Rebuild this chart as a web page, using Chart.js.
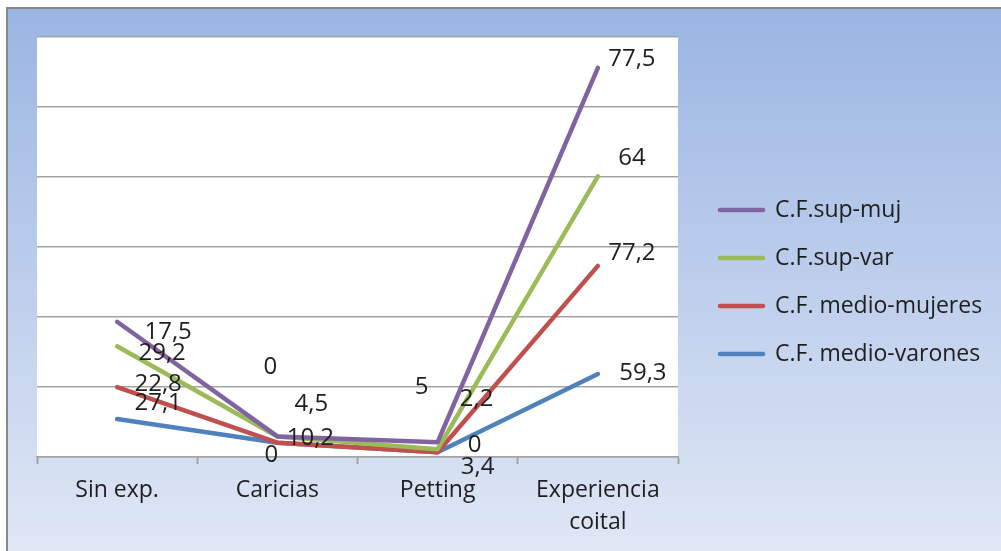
<!DOCTYPE html>
<html>
<head>
<meta charset="utf-8">
<script src="https://cdn.jsdelivr.net/npm/chart.js@4"></script>
<style>
  html, body { margin: 0; padding: 0; background: #fff; }
  #wrap { width: 1001px; height: 551px; }
</style>
</head>
<body>
<div id="wrap"><canvas id="chart" width="1001" height="551"></canvas></div>
<script>
const categories = ["Sin exp.", "Caricias", "Petting", ["Experiencia", "coital"]];
const medioVarones = [27.1, 10.2, 3.4, 59.3];
const medioMujeres = [22.8, 0, 0, 77.2];
const supVar = [29.2, 4.5, 2.2, 64];
const supMuj = [17.5, 0, 5, 77.5];

// where Excel left each value label, as offsets from its point (px)
const labelOffsets = {
  "C.F. medio-varones": [[41, -16], [33, -5], [40, 15], [45, -1]],
  "C.F. medio-mujeres": [[41, -3], [-6, 12], [37, -7], [34, -13]],
  "C.F.sup-var": [[45, 7], [34, -32], [39, -50], [34, -18]],
  "C.F.sup-muj": [[51, 10], [-7, -69], [-16, -55], [34, -9]],
};

const FONT = "'Open Sans', 'DejaVu Sans', sans-serif";
const GRID = "#a3a3a3";
const INK = "#1e1e1e";

const line = (label, data, color) => ({
  label, data,
  borderColor: color, backgroundColor: color,
  borderWidth: 4.5, borderCapStyle: "round", borderJoinStyle: "round",
  pointRadius: 0, pointHoverRadius: 0,
  tension: 0, fill: false,
});

const background = {
  id: "background",
  beforeDraw(chart) {
    const { ctx, width, height, chartArea: a } = chart;
    ctx.save();
    ctx.fillStyle = "#fff";
    ctx.fillRect(0, 0, width, height);
    const g = ctx.createLinearGradient(0, 8, 0, height);
    g.addColorStop(0, "#9ab5e3");
    g.addColorStop(1, "#e0e7f5");
    ctx.fillStyle = g;
    ctx.fillRect(6, 7, width - 6, height - 7);
    ctx.fillStyle = "#888";
    ctx.fillRect(6, 7, width - 6, 2);
    ctx.fillRect(6, 7, 2, height - 7);
    ctx.fillStyle = "#fff";
    ctx.fillRect(a.left, a.top, a.right - a.left, a.bottom - a.top);
    ctx.restore();
  },
};

// Excel draws later series on top; keep stacking order but paint index 0 first
const drawOrder = {
  id: "drawOrder",
  beforeDatasetsDraw(chart) {
    chart.getSortedVisibleDatasetMetas().forEach((m) => m.controller.draw());
    return false;
  },
};

const valueLabels = {
  id: "valueLabels",
  afterDraw(chart) {
    const { ctx } = chart;
    ctx.save();
    ctx.font = `24px ${FONT}`;
    ctx.fillStyle = INK;
    ctx.textAlign = "center";
    ctx.textBaseline = "middle";
    chart.data.datasets.forEach((ds, i) => {
      const meta = chart.getDatasetMeta(i);
      const offs = labelOffsets[ds.label];
      meta.data.forEach((pt, j) => {
        const txt = String(ds.data[j]).replace(".", ",");
        ctx.fillText(txt, pt.x + offs[j][0], pt.y + offs[j][1]);
      });
    });
    ctx.restore();
  },
};

// legend to the right of the plot, last series first like Excel
const sideLegend = {
  id: "sideLegend",
  afterDraw(chart) {
    const { ctx, chartArea: a } = chart;
    const x0 = a.right + 40;
    const yMid = 282;
    const step = 48;
    const items = chart.data.datasets.slice().reverse();
    ctx.save();
    ctx.font = `23px ${FONT}`;
    ctx.textBaseline = "middle";
    ctx.textAlign = "left";
    items.forEach((ds, k) => {
      const y = yMid + (k - (items.length - 1) / 2) * step;
      ctx.strokeStyle = ds.borderColor;
      ctx.lineWidth = 4.5;
      ctx.lineCap = "round";
      ctx.beginPath();
      ctx.moveTo(x0 + 2, y);
      ctx.lineTo(x0 + 45, y);
      ctx.stroke();
      ctx.fillStyle = INK;
      ctx.fillText(ds.label, x0 + 57, y);
    });
    ctx.restore();
  },
};

new Chart(document.getElementById("chart"), {
  type: "line",
  data: {
    labels: categories,
    datasets: [
      line("C.F. medio-varones", medioVarones, "#4f81bd"),
      line("C.F. medio-mujeres", medioMujeres, "#c0504d"),
      line("C.F.sup-var", supVar, "#9bbb59"),
      line("C.F.sup-muj", supMuj, "#8064a2"),
    ],
  },
  options: {
    responsive: false,
    animation: false,
    devicePixelRatio: 1,
    layout: { padding: { left: 37, top: 37, right: 323, bottom: 0 } },
    plugins: {
      legend: { display: false },
      tooltip: { enabled: false },
    },
    scales: {
      x: {
        offset: true,
        grid: {
          offset: true, drawOnChartArea: false, drawTicks: true,
          tickLength: 7, tickColor: GRID, tickWidth: 2,
        },
        border: { display: true, color: GRID, width: 1.5 },
        ticks: {
          color: INK, padding: 10, maxRotation: 0,
          font: { family: FONT, size: 23, lineHeight: 1.4 },
        },
        afterFit(s) { s.height = 94; },
      },
      y: {
        stacked: true,
        min: 0, max: 300,
        ticks: { display: false, stepSize: 50 },
        grid: { color: GRID, lineWidth: 1.5, drawTicks: false },
        border: { display: false },
        afterFit(s) { s.width = 0; },
      },
    },
  },
  plugins: [background, drawOrder, valueLabels, sideLegend],
});
</script>
</body>
</html>
